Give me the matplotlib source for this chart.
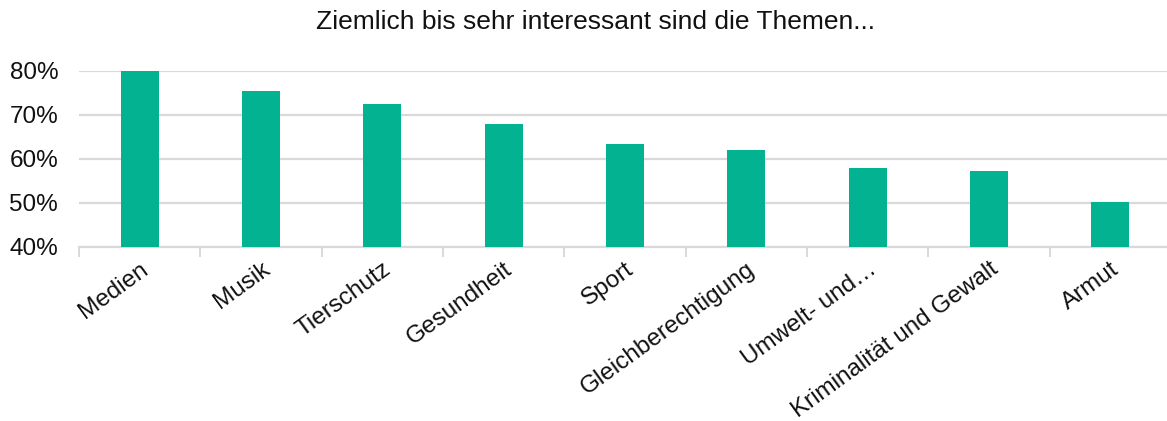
import numpy as np
import matplotlib.pyplot as plt
from matplotlib.ticker import FuncFormatter, FixedLocator

plt.rcParams['font.family'] = ['Liberation Sans', 'DejaVu Sans']

# data
themen = ['Medien', 'Musik', 'Tierschutz', 'Gesundheit', 'Sport',
          'Gleichberechtigung', 'Umwelt- und\u2026', 'Kriminalität und Gewalt', 'Armut']
anteil = [80.0, 75.5, 72.5, 67.9, 63.4, 62.0, 57.9, 57.2, 50.2]
y_ticks = [40, 50, 60, 70, 80]

W, H = 1167, 421
fig = plt.figure(figsize=(W / 100, H / 100), dpi=100)
# axes placed in pixel terms of the reference
x0, x1, y_top, y_bot = 79, 1171, 71, 247
ax = fig.add_axes([x0 / W, 1 - y_bot / H, (x1 - x0) / W, (y_bot - y_top) / H])

x = np.arange(len(themen))
ax.bar(x, anteil, width=0.313, color='#02b290', zorder=3)

ax.set_xlim(-0.5, len(themen) - 0.5)
ax.set_ylim(40, 80)
ax.set_yticks(y_ticks)
ax.yaxis.set_major_formatter(FuncFormatter(lambda v, p: f'{v:.0f}%'))
ax.grid(axis='y', color='#d9d9d9', linewidth=1.6, zorder=0)
ax.tick_params(axis='y', length=0, pad=15, labelsize=17.5, labelcolor='#111111')

for s in ['top', 'right', 'left']:
    ax.spines[s].set_visible(False)
ax.spines['bottom'].set_color('#d9d9d9')
ax.spines['bottom'].set_linewidth(1.6)

ax.set_xticks(x)
ax.set_xticklabels(themen, rotation=36, ha='right', rotation_mode='anchor',
                   fontsize=17.5, color='#111111')
ax.tick_params(axis='x', length=0, pad=8)
ax.xaxis.set_minor_locator(FixedLocator(np.arange(-0.5, len(themen), 1.0)))
ax.tick_params(axis='x', which='minor', length=7, width=1.4, color='#d9d9d9')

fig.text(596 / W, 1 - 22 / H, 'Ziemlich bis sehr interessant sind die Themen...',
         ha='center', va='center', fontsize=19, color='#111111')

fig.savefig('out.png', dpi=100)
